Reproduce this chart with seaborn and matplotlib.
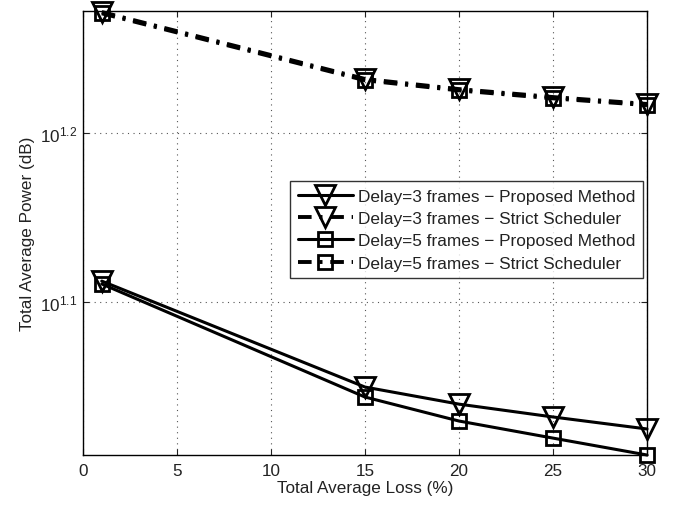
import numpy as np
import pandas as pd
import matplotlib
matplotlib.use("Agg")
import matplotlib.pyplot as plt
import seaborn as sns

x_vals = [1, 15, 20, 25, 30]
d3_proposed = [10**1.1124, 10**1.0497, 10**1.0396, 10**1.0320, 10**1.0249]
d3_strict = [10**1.2716, 10**1.2320, 10**1.2260, 10**1.2213, 10**1.2172]
d5_proposed = [10**1.1107, 10**1.0438, 10**1.0296, 10**1.0195, 10**1.0095]
d5_strict = [10**1.2708, 10**1.2312, 10**1.2252, 10**1.2205, 10**1.2165]
labels = ["Delay=3 frames \u2212 Proposed Method",
          "Delay=3 frames \u2212 Strict Scheduler",
          "Delay=5 frames \u2212 Proposed Method",
          "Delay=5 frames \u2212 Strict Scheduler"]
x_ticks = [0, 5, 10, 15, 20, 25, 30]
y_ticks = [10**1.1, 10**1.2]
y_tick_labels = ["$10^{1.1}$", "$10^{1.2}$"]

sns.set_theme(style="white")
plt.rcParams['font.family'] = ['Liberation Sans', 'DejaVu Sans']
plt.rcParams['mathtext.fontset'] = 'custom'
plt.rcParams['mathtext.rm'] = 'Liberation Sans'
plt.rcParams['mathtext.it'] = 'Liberation Sans'

series = [d3_proposed, d3_strict, d5_proposed, d5_strict]
frames = []
for lab, vals in zip(labels, series):
    frames.append(pd.DataFrame({"x": x_vals, "y": vals, "series": lab}))
df = pd.concat(frames, ignore_index=True)

dashdot = (0, (3.5, 2.0, 0.8, 2.0))
styles = {
    labels[0]: dict(marker="v", ls="-", lw=2.2, ms=15, z=4),
    labels[1]: dict(marker="v", ls=dashdot, lw=2.8, ms=15, z=4),
    labels[2]: dict(marker="s", ls="-", lw=2.2, ms=10.5, z=3),
    labels[3]: dict(marker="s", ls=dashdot, lw=2.8, ms=10.5, z=3),
}

fig = plt.figure(figsize=(6.79, 5.06), dpi=100)
ax = fig.add_axes([0.1222, 0.0988, 0.8307, 0.8775])
for lab in labels:
    st = styles[lab]
    sub = df[df["series"] == lab]
    sns.lineplot(data=sub, x="x", y="y", ax=ax, color="black",
                 linestyle=st["ls"], linewidth=st["lw"], marker=st["marker"],
                 markersize=st["ms"], markerfacecolor="none", markeredgecolor="black",
                 markeredgewidth=2.0, label=lab, clip_on=False, zorder=st["z"])

ax.set_yscale("log")
ax.set_xlim(0, 30)
ax.set_ylim(10**1.0095, 10**1.2722)
ax.set_xticks(x_ticks)
ax.set_xticklabels([str(t) for t in x_ticks])
ax.set_yticks(y_ticks)
ax.set_yticklabels(y_tick_labels)
ax.yaxis.set_minor_locator(matplotlib.ticker.NullLocator())
ax.tick_params(axis="both", direction="in", length=4, labelsize=12.3, colors="#222222",
               top=True, right=True, left=True, bottom=True, width=0.8, pad=6)
ax.tick_params(axis="y", pad=4)
ax.grid(True, linestyle=(0, (1, 4)), color="#555555", linewidth=0.8)
for sp in ax.spines.values():
    sp.set_color("black")
    sp.set_linewidth(1.0)
ax.set_xlabel("Total Average Loss (%)", fontsize=12.3, labelpad=1, color="#222222")
ax.set_ylabel("Total Average Power (dB)", fontsize=12.3, labelpad=4, color="#222222")

leg = ax.legend(loc="upper right", bbox_to_anchor=(0.993, 0.617), borderaxespad=0,
                fontsize=12.4, frameon=True, fancybox=False, edgecolor="black",
                handlelength=3.2, borderpad=0.45, labelspacing=0.42, handletextpad=0.3)
leg.get_frame().set_linewidth(1.0)
for t in leg.get_texts():
    t.set_color("#222222")

fig.savefig("out.png", dpi=100)
